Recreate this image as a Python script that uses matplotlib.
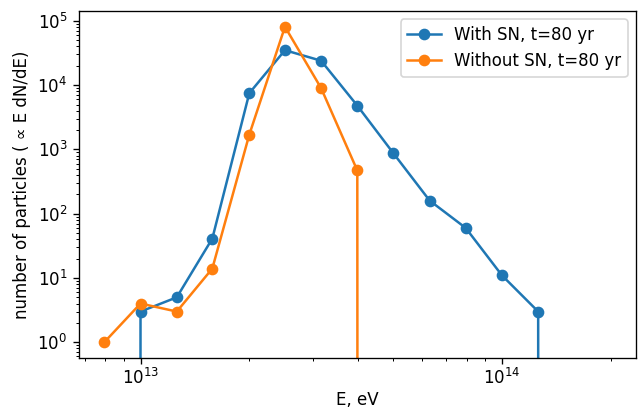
import numpy as np
import matplotlib
matplotlib.use("Agg")
import matplotlib.pyplot as plt

# bin energies (eV), log-spaced 10^12.9 .. 10^14.3
energy = [7.94e12, 1.0e13, 1.26e13, 1.58e13, 2.0e13, 2.51e13, 3.16e13, 3.98e13,
          5.01e13, 6.31e13, 7.94e13, 1.0e14, 1.26e14, 1.58e14, 2.0e14]
with_sn = [0, 3, 5, 41, 7500, 35000, 24000, 4800, 870, 160, 60, 11, 3, 0, 0]
without_sn = [1, 4, 3, 14, 1700, 81000, 9000, 470, 0, 0, 0, 0, 0, 0, 0]

dpi = 120
fig, ax = plt.subplots(figsize=(640 / dpi, 408 / dpi), dpi=dpi)
fig.subplots_adjust(left=79 / 640, right=636 / 640, top=1 - 11 / 408, bottom=1 - 358 / 408)

ax.plot(energy, with_sn, "o-", label="With SN, t=80 yr")
ax.plot(energy, without_sn, "o-", label="Without SN, t=80 yr")
ax.set_xscale("log")
ax.set_yscale("log")
ax.tick_params(axis="x", pad=2.5)
ax.set_xlabel("E, eV", labelpad=1.5)
ax.set_ylabel("number of particles ( \u221d E dN/dE)")
ax.legend()

fig.savefig("out.png", dpi=dpi)
